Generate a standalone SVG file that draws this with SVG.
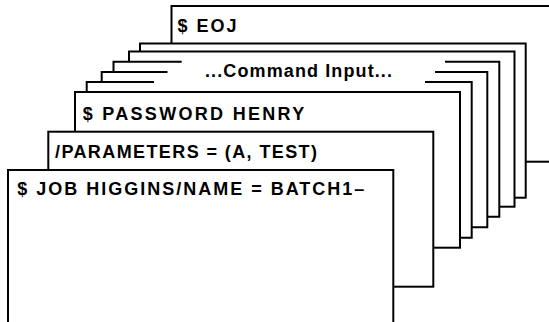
<svg xmlns="http://www.w3.org/2000/svg" width="549" height="322" viewBox="0 0 549 322">
<style>
.card{fill:#fff;stroke:#000;stroke-width:2}
.bg{fill:#fff;stroke:none}
.edge{fill:none;stroke:#000;stroke-width:2}
.t{font-family:"Liberation Sans",Arial,sans-serif;font-size:18px;font-weight:bold;fill:#000}
</style>
<rect width="549" height="322" fill="#fff"/>
<g id="card-eoj">
<rect class="card" x="171.5" y="6" width="400" height="155.7"/>
<text class="t" x="177.5" y="31.5" textLength="59" lengthAdjust="spacing">$ EOJ</text>
</g>
<g id="card-8"><rect class="card" x="140" y="43.5" width="385.7" height="154.2"/></g>
<g id="card-7"><rect class="card" x="129" y="51.5" width="385.5" height="155.2"/></g>
<g id="card-6">
<rect class="bg" x="113.5" y="61.7" width="385.8" height="155"/>
<path class="edge" d="M181.7 61.7H113.5V216.7H499.3V61.7H445"/>
</g>
<g id="card-5">
<rect class="bg" x="101.7" y="72" width="385.6" height="155.3"/>
<path class="edge" d="M167.5 72H101.7V227.3H487.3V72H435"/>
</g>
<g id="card-4">
<rect class="bg" x="86.7" y="82" width="385" height="155.7"/>
<path class="edge" d="M154 82H86.7V237.7H471.7V82H425"/>
</g>
<g id="command-input">
<text class="t" x="205" y="76.5" textLength="187" lengthAdjust="spacing">...Command Input...</text>
</g>
<g id="card-password">
<rect class="card" x="75" y="92" width="385" height="155.7"/>
<text class="t" x="82.7" y="120" textLength="221.5" lengthAdjust="spacing">$ PASSWORD HENRY</text>
</g>
<g id="card-parameters">
<rect class="card" x="48.3" y="131.7" width="385" height="155"/>
<text class="t" x="55" y="158.3" textLength="262" lengthAdjust="spacing">/PARAMETERS = (A, TEST)</text>
</g>
<g id="card-job">
<rect class="card" x="8" y="170" width="385.3" height="170"/>
<text class="t" x="17.3" y="195" textLength="347" lengthAdjust="spacing">$ JOB HIGGINS/NAME = BATCH1–</text>
</g>
<g id="connectors"/>
</svg>
